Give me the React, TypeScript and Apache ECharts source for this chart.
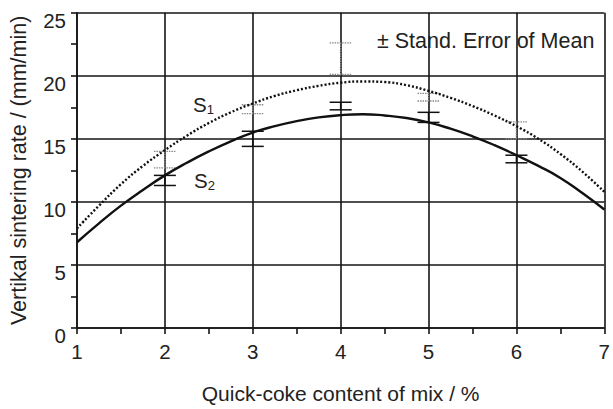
import React, { useEffect, useRef } from "react";
import * as echarts from "echarts";

const curveX = [1, 1.25, 1.5, 1.75, 2, 2.25, 2.5, 2.75, 3, 3.25, 3.5, 3.75, 4, 4.25, 4.5, 4.75, 5, 5.25, 5.5, 5.75, 6, 6.25, 6.5, 6.75, 7];
const s1Curve = [7.9, 9.7, 11.4, 12.85, 14.1, 15.25, 16.25, 17.1, 17.8, 18.4, 18.85, 19.2, 19.45, 19.55, 19.5, 19.25, 18.8, 18.25, 17.6, 16.85, 16.0, 15.0, 13.8, 12.4, 10.8];
const s2Curve = [6.8, 8.3, 9.7, 10.95, 12.1, 13.1, 14.0, 14.8, 15.5, 16.0, 16.4, 16.7, 16.88, 16.95, 16.85, 16.65, 16.3, 15.8, 15.2, 14.5, 13.7, 12.85, 11.9, 10.7, 9.4];

const errX = [2, 3, 4, 5, 6];
const s1Low = [12.7, 17.0, 20.1, 18.0, 15.0];
const s1High = [14.0, 17.7, 22.6, 18.6, 16.35];
const s2Low = [11.3, 14.4, 17.3, 16.3, 13.1];
const s2High = [12.1, 15.6, 17.9, 17.1, 13.7];

const xName = "Quick-coke content of mix / %";
const yName = "Vertikal sintering rate / (mm/min)";
const legendText = "± Stand. Error of Mean";

const FONT = "'Liberation Sans', Arial, sans-serif";

function errRender(color: string, width: number, dash: number[] | null) {
  return (params: any, api: any) => {
    const x = api.value(0);
    const lo = api.value(1);
    const hi = api.value(2);
    const pLo = api.coord([x, lo]);
    const pHi = api.coord([x, hi]);
    const hw = 11;
    const style: any = { stroke: color, lineWidth: width };
    if (dash) style.lineDash = dash;
    return {
      type: "group",
      children: [
        { type: "line", shape: { x1: pLo[0], y1: pLo[1], x2: pHi[0], y2: pHi[1] }, style },
        { type: "line", shape: { x1: pLo[0] - hw, y1: pLo[1], x2: pLo[0] + hw, y2: pLo[1] }, style },
        { type: "line", shape: { x1: pHi[0] - hw, y1: pHi[1], x2: pHi[0] + hw, y2: pHi[1] }, style },
      ],
    };
  };
}

export default function App() {
  const ref = useRef<HTMLDivElement>(null);
  useEffect(() => {
    if (!ref.current) return;
    const chart = echarts.init(ref.current, null, { renderer: "svg" });
    const axisLineStyle = { color: "#151515", width: 1.6 };
    chart.setOption({
      animation: false,
      backgroundColor: "#ffffff",
      grid: { left: 76, top: 12.7, right: 0.6, bottom: 69.7, containLabel: false },
      xAxis: {
        type: "value",
        min: 1,
        max: 7,
        interval: 1,
        name: xName,
        nameLocation: "middle",
        nameGap: 55,
        nameTextStyle: { fontSize: 21, fontFamily: FONT, color: "#222" },
        axisLine: { lineStyle: axisLineStyle },
        axisTick: { length: 6, lineStyle: axisLineStyle },
        minorTick: { show: true, splitNumber: 2, length: 6, lineStyle: axisLineStyle },
        splitLine: { show: true, lineStyle: axisLineStyle },
        axisLabel: { fontSize: 20.5, fontFamily: FONT, color: "#222", margin: 13 },
      },
      yAxis: {
        type: "value",
        min: 0,
        max: 25,
        interval: 5,
        name: yName,
        nameLocation: "middle",
        nameGap: 47,
        nameTextStyle: { fontSize: 21.5, fontFamily: FONT, color: "#222" },
        axisLine: { lineStyle: axisLineStyle },
        axisTick: { length: 6, lineStyle: axisLineStyle },
        minorTick: { show: true, splitNumber: 2, length: 6, lineStyle: axisLineStyle },
        splitLine: { show: true, lineStyle: axisLineStyle },
        axisLabel: {
          fontSize: 20.5,
          fontFamily: FONT,
          color: "#222",
          margin: 11,
          verticalAlign: "top",
          lineHeight: 15,
        },
      },
      series: [
        {
          type: "line",
          data: curveX.map((x, i) => [x, s1Curve[i]]),
          smooth: true,
          symbol: "none",
          lineStyle: { color: "#111", width: 2.4, type: [2, 2] },
          z: 5,
        },
        {
          type: "line",
          data: curveX.map((x, i) => [x, s2Curve[i]]),
          smooth: true,
          symbol: "none",
          lineStyle: { color: "#111", width: 2.4 },
          z: 5,
        },
        {
          type: "custom",
          renderItem: errRender("#888", 1.3, [1.5, 1]),
          data: errX.map((x, i) => [x, s1Low[i], s1High[i]]),
          z: 4,
        },
        {
          type: "custom",
          renderItem: errRender("#111", 1.5, null),
          data: errX.map((x, i) => [x, s2Low[i], s2High[i]]),
          z: 4,
        },
      ],
      graphic: [
        {
          type: "text",
          left: 377,
          top: 30,
          style: { text: legendText, fontSize: 21.5, fontFamily: FONT, fill: "#222" },
          z: 10,
        },
        {
          type: "text",
          left: 193,
          top: 94,
          style: {
            text: "{a|S}{b|1}",
            rich: {
              a: { fontSize: 20.5, fontFamily: FONT, fill: "#222" },
              b: { fontSize: 13, fontFamily: FONT, fill: "#222", padding: [10, 0, 0, 0] },
            },
          },
          z: 10,
        },
        {
          type: "text",
          left: 194,
          top: 170,
          style: {
            text: "{a|S}{b|2}",
            rich: {
              a: { fontSize: 20.5, fontFamily: FONT, fill: "#222" },
              b: { fontSize: 13, fontFamily: FONT, fill: "#222", padding: [10, 0, 0, 0] },
            },
          },
          z: 10,
        },
      ],
    });
    return () => chart.dispose();
  }, []);
  return (
    <div
      ref={ref}
      style={{ position: "fixed", left: 0, top: 0, width: 613, height: 409 }}
    />
  );
}
